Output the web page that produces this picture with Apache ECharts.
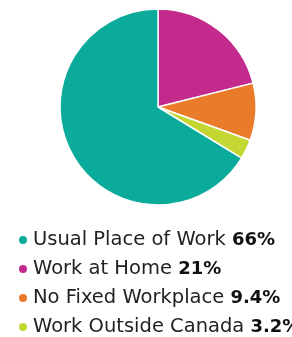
<!DOCTYPE html>
<html>
<head>
<meta charset="utf-8">
<script src="https://cdn.jsdelivr.net/npm/echarts@6/dist/echarts.min.js"></script>
<style>
  html, body { margin: 0; padding: 0; background: #fff; }
  #chart { width: 292px; height: 337px; }
</style>
</head>
<body>
<div id="chart"></div>
<script>
// slices in drawing order (clockwise from 12 o'clock)
const names = ['Work at Home', 'No Fixed Workplace', 'Work Outside Canada', 'Usual Place of Work'];
const values = [21, 9.4, 3.2, 66];
const colors = ['#c22b8c', '#ea7b2b', '#c4d631', '#0aab9a'];
// legend order as shown under the pie
const legendOrder = ['Usual Place of Work', 'Work at Home', 'No Fixed Workplace', 'Work Outside Canada'];
const pctLabels = { 'Usual Place of Work': '66%', 'Work at Home': '21%', 'No Fixed Workplace': '9.4%', 'Work Outside Canada': '3.2%' };

const myChart = echarts.init(document.getElementById('chart'), null, { renderer: 'canvas' });

const option = {
  animation: false,
  color: colors,
  legend: {
    orient: 'vertical',
    left: 12,
    top: 224,
    height: 200,
    width: 400,
    icon: 'circle',
    itemWidth: 10,
    itemHeight: 10,
    itemGap: 7,
    data: legendOrder,
    formatter: function (name) {
      return name + ' {b|' + pctLabels[name] + '}';
    },
    textStyle: {
      fontFamily: 'DejaVu Sans',
      fontSize: 19.5,
      lineHeight: 22,
      color: '#222',
      padding: [0, 0, 0, 0],
      rich: {
        b: { fontFamily: 'DejaVu Sans', fontSize: 18, lineHeight: 22, fontWeight: 'bold', color: '#111' }
      }
    }
  },
  series: [{
    type: 'pie',
    center: [158, 107],
    radius: [0, 98],
    startAngle: 90,
    clockwise: true,
    label: { show: false },
    labelLine: { show: false },
    itemStyle: { borderColor: '#fff', borderWidth: 1.5 },
    emphasis: { disabled: true },
    data: names.map((n, i) => ({ name: n, value: values[i] }))
  }]
};

myChart.setOption(option);
</script>
</body>
</html>
